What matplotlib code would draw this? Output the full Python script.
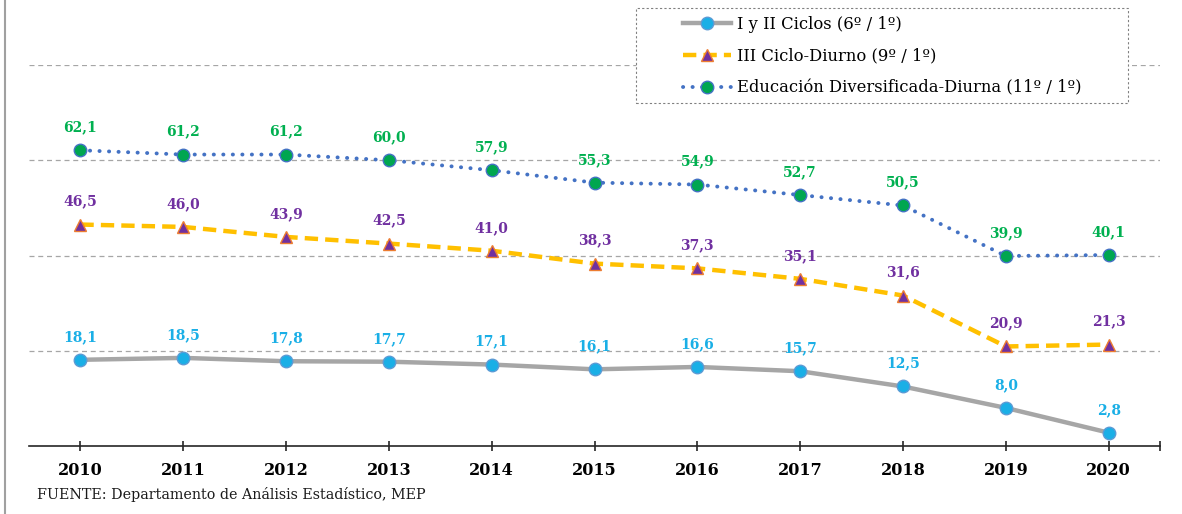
import matplotlib
matplotlib.use("Agg")
import matplotlib.pyplot as plt
from matplotlib.lines import Line2D
from matplotlib.patches import Rectangle

years = ["2010", "2011", "2012", "2013", "2014", "2015", "2016", "2017", "2018", "2019", "2020"]
ciclos_1_2 = [18.1, 18.5, 17.8, 17.7, 17.1, 16.1, 16.6, 15.7, 12.5, 8.0, 2.8]
ciclo_3 = [46.5, 46.0, 43.9, 42.5, 41.0, 38.3, 37.3, 35.1, 31.6, 20.9, 21.3]
diversificada = [62.1, 61.2, 61.2, 60.0, 57.9, 55.3, 54.9, 52.7, 50.5, 39.9, 40.1]
series_names = ["I y II Ciclos (6º / 1º)", "III Ciclo-Diurno (9º / 1º)",
                "Educación Diversificada-Diurna (11º / 1º)"]
source_text = "FUENTE: Departamento de Análisis Estadístico, MEP"

plt.rcParams['font.family'] = ['DejaVu Serif']

W, H = 1182, 514
fig = plt.figure(figsize=(W / 100, H / 100), dpi=100)
ax = fig.add_axes([29 / W, 68 / H, (1160 - 29) / W, (446 - 65) / H])

x = list(range(len(years)))

styles = [
    dict(data=ciclos_1_2, color="#A6A6A6", ls="-", lw=3.2, marker="o", mfc="#1AAFE6",
         mec="#5B9BD5", ms=9, lab="#1AAFE6", cap="butt"),
    dict(data=ciclo_3, color="#FFC000", ls=(0, (3.0, 1.6)), lw=3.2, marker="^", mfc="#7030A0",
         mec="#ED7D31", ms=8.5, lab="#7030A0", cap="butt"),
    dict(data=diversificada, color="#4472C4", ls=(0, (0.05, 2.4)), lw=2.8, marker="o", mfc="#00A650",
         mec="#4472C4", ms=9, lab="#00B050", cap="round"),
]

handles = []
for s, name in zip(styles, series_names):
    ln, = ax.plot(x, s["data"], color=s["color"], ls=s["ls"], lw=s["lw"], marker=s["marker"],
                  mfc=s["mfc"], mec=s["mec"], ms=s["ms"], mew=1, zorder=3,
                  dash_capstyle=s["cap"], label=name)
    handles.append(ln)
    for xi, v in zip(x, s["data"]):
        ax.annotate(f"{v:.1f}".replace(".", ","), (xi, v), xytext=(0, 16.5),
                    textcoords="offset points", ha="center", va="center",
                    fontsize=10, fontweight="bold", color=s["lab"], annotation_clip=False)

ax.set_xlim(-0.5, 10.5)
ax.set_ylim(0, 80)
for g in [20, 40, 60, 80]:
    ax.axhline(g, color="#A6A6A6", lw=0.9, ls=(0, (4, 3)), zorder=1)

for sp in ["top", "right", "left"]:
    ax.spines[sp].set_visible(False)
ax.spines["bottom"].set_color("#262626")
ax.spines["bottom"].set_linewidth(1.2)
ax.set_yticks([])
ax.set_xticks(x + [10.5])
ax.set_xticklabels(years + [""], fontsize=11.5, fontweight="bold")
ax.tick_params(axis="x", direction="inout", length=7, width=1.2, color="#262626", pad=8)

# legend box
fig.add_artist(Rectangle((636 / W, 1 - 103 / H), 492 / W, 95 / H, transform=fig.transFigure,
                         facecolor="white", edgecolor="#808080", lw=0.8, ls=(0, (2, 2)), zorder=4))
leg = fig.legend(handles=handles, loc="upper left", bbox_to_anchor=(683 / W, 1 - 16 / H),
                 fontsize=11.8, frameon=False, handlelength=2.9,
                 handletextpad=0.4, labelspacing=0.9, borderpad=0, borderaxespad=0)
leg.set_zorder(5)

fig.text(37 / W, 1 - 494 / H, source_text, fontsize=10.3, va="center", ha="left", color="#1a1a1a")
fig.add_artist(Line2D([5 / W, 5 / W], [0, 1], color="#A0A0A0", lw=1.5))

fig.savefig("out.png", dpi=100)
